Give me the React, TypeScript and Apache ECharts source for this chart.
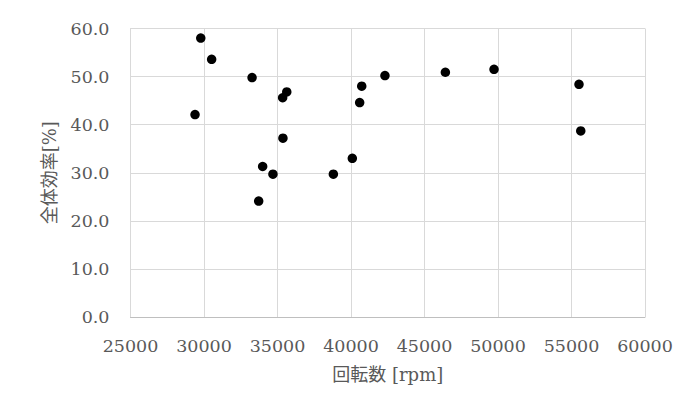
import React, { useEffect, useRef } from "react";
import * as echarts from "echarts";

const rpm = [29780, 30520, 33270, 35630, 35350, 29390, 35370, 33990, 34690, 38800, 33720, 42310, 40730, 40590, 40090, 46420, 49730, 55510, 55630];
const efficiency = [58.0, 53.6, 49.8, 46.8, 45.6, 42.1, 37.2, 31.3, 29.7, 29.7, 24.1, 50.2, 48.0, 44.6, 33.0, 50.9, 51.5, 48.4, 38.7];
const xTitle = "回転数 [rpm]";
const yTitle = "全体効率[%]";

const FONT = "'DejaVu Serif', 'Noto Sans CJK JP', serif";
const TEXT = "#595959";

export default function App() {
  const ref = useRef<HTMLDivElement>(null);
  useEffect(() => {
    if (!ref.current) return;
    const chart = echarts.init(ref.current, null, { renderer: "svg" });
    chart.setOption({
      animation: false,
      backgroundColor: "#ffffff",
      grid: { left: 130.5, right: 43, top: 28.5, bottom: 90, containLabel: false },
      xAxis: {
        type: "value",
        min: 25000,
        max: 60000,
        interval: 5000,
        name: xTitle,
        nameLocation: "middle",
        nameGap: 48,
        nameTextStyle: { color: TEXT, fontSize: 18, fontFamily: FONT },
        axisLine: { show: true, lineStyle: { color: "#bfbfbf", width: 1 } },
        axisTick: { show: false },
        axisLabel: {
          color: TEXT,
          fontSize: 17.5,
          fontFamily: FONT,
          margin: 20,
          formatter: (v: number) => String(v),
        },
        splitLine: { show: true, lineStyle: { color: "#d9d9d9", width: 1 } },
      },
      yAxis: {
        type: "value",
        min: 0,
        max: 60,
        interval: 10,
        name: yTitle,
        nameLocation: "middle",
        nameGap: 72,
        nameRotate: 90,
        nameTextStyle: { color: TEXT, fontSize: 18, fontFamily: FONT },
        axisLine: { show: true, lineStyle: { color: "#d9d9d9", width: 1 } },
        axisTick: { show: false },
        axisLabel: {
          color: TEXT,
          fontSize: 17.5,
          fontFamily: FONT,
          margin: 21,
          formatter: (v: number) => v.toFixed(1),
        },
        splitLine: { show: true, lineStyle: { color: "#d9d9d9", width: 1 } },
      },
      series: [
        {
          type: "scatter",
          data: rpm.map((x, i) => [x, efficiency[i]]),
          symbol: "circle",
          symbolSize: 9.5,
          itemStyle: { color: "#000000", opacity: 1 },
        },
      ],
    });
    return () => chart.dispose();
  }, []);
  return <div ref={ref} style={{ width: 688, height: 407, margin: -8 }} />;
}
